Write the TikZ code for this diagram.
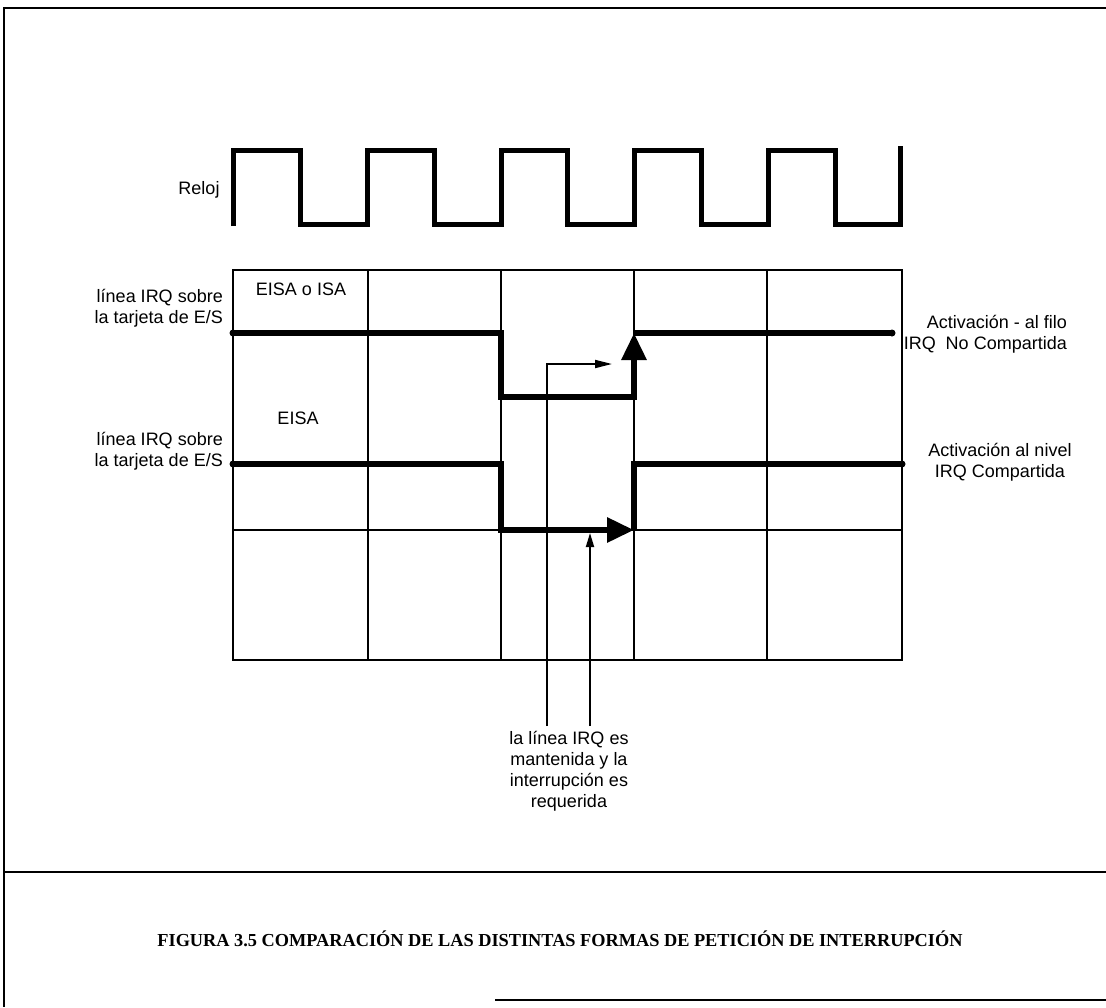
\documentclass[tikz,border=0pt]{standalone}
\usepackage{fontspec}
\setmainfont{Liberation Sans}
\newfontfamily\capfont{Liberation Serif}
\usetikzlibrary{arrows.meta}
\begin{document}
\begin{tikzpicture}[x=1pt,y=-1pt,
  lbl/.style={inner sep=0pt,font=\fontsize{18}{21}\selectfont},
  grid/.style={line width=2.2pt},
  sig/.style={line width=6pt,line join=miter},
  clk/.style={line width=5pt,line join=miter},
  thin/.style={line width=1.8pt},
  frame/.style={line width=2pt},
  dot/.style={circle,fill=black,inner sep=0pt,minimum size=7pt}]
\useasboundingbox (0,0) rectangle (1106,1007);
% frame
\coordinate (ftl) at (4,8);
\coordinate (ftr) at (1106,8);
\coordinate (fbl) at (4,1007);
\coordinate (fsl) at (4,872);
\coordinate (fsr) at (1106,872);
\coordinate (fbm) at (495,1000);
\coordinate (fbr) at (1106,1000);
\draw[frame] (ftr) -- (ftl) -- (fbl);
\draw[frame] (fsl) -- (fsr);
\draw[frame] (fbm) -- (fbr);
% clock
\node[lbl] (reloj) at (199,190) {Reloj};
\draw[clk] (233,226) -- (233,150) -- (300,150) -- (300,224) -- (367,224) -- (367,150)
  -- (434,150) -- (434,224) -- (501,224) -- (501,150) -- (567,150) -- (567,224)
  -- (634,224) -- (634,150) -- (701,150) -- (701,224) -- (768,224) -- (768,150)
  -- (835,150) -- (835,224) -- (900,224) -- (900,146);
% grid
\draw[grid] (233,270) rectangle (902,660);
\foreach \x in {368,501,634,767} \draw[grid] (\x,270) -- (\x,660);
\draw[grid] (233,530) -- (902,530);
% signal 1
\node[dot] (s1a) at (233,333) {};
\node[dot] (s1b) at (892,333) {};
\coordinate (s1c) at (501,333);
\coordinate (s1d) at (501,397);
\coordinate (s1e) at (634,397);
\coordinate (s1f) at (634,333);
\draw[sig] (s1a.center) -- (s1c) -- (s1d) -- (s1e) -- (634,358);
\draw[sig] (s1f) -- (s1b.center);
\draw[line width=6pt,-{Triangle[width=24pt,length=27pt]}] (634,372) -- (s1f);
% signal 2
\node[dot] (s2a) at (233,464) {};
\node[dot] (s2b) at (902,464) {};
\coordinate (s2c) at (501,464);
\coordinate (s2d) at (501,530);
\coordinate (s2e) at (634,530);
\coordinate (s2f) at (634,464);
\draw[sig] (s2a.center) -- (s2c) -- (s2d) -- (605,530);
\draw[line width=6pt,-{Triangle[width=24pt,length=27pt]}] (590,530) -- (s2e);
\draw[sig] (s2e) -- (s2f) -- (s2b.center);
% labels
\node[lbl,anchor=east,align=right] (l1) at (223,308) {línea IRQ sobre\\la tarjeta de E/S};
\node[lbl,anchor=east,align=right] (l2) at (223,451) {línea IRQ sobre\\la tarjeta de E/S};
\node[lbl] (e1) at (301,289) {EISA o ISA};
\node[lbl] (e2) at (298,418) {EISA};
\node[lbl,anchor=east,align=right] (r1) at (1067,334) {Activación - al filo\\IRQ\ \ No Compartida};
\node[lbl,align=center] (r2) at (1000,462) {Activación al nivel\\IRQ Compartida};
\node[lbl,align=center] (b1) at (569,771) {la línea IRQ es\\mantenida y la\\interrupción es\\requerida};
% thin arrows
\coordinate (t1a) at (547,726);
\coordinate (t1b) at (547,364);
\coordinate (t1c) at (612,364);
\draw[thin,-{Triangle[width=8pt,length=17pt]}] (t1a) -- (t1b) -- (t1c);
\coordinate (t2a) at (590,726);
\coordinate (t2b) at (590,533);
\draw[thin,-{Triangle[width=8pt,length=14pt]}] (t2a) -- (t2b);
% caption
\node[inner sep=0pt,font=\capfont\bfseries\fontsize{18.3}{21}\selectfont] (cap) at (560,939)
  {FIGURA 3.5 COMPARACIÓN DE LAS DISTINTAS FORMAS DE PETICIÓN DE INTERRUPCIÓN};
\end{tikzpicture}
\end{document}
